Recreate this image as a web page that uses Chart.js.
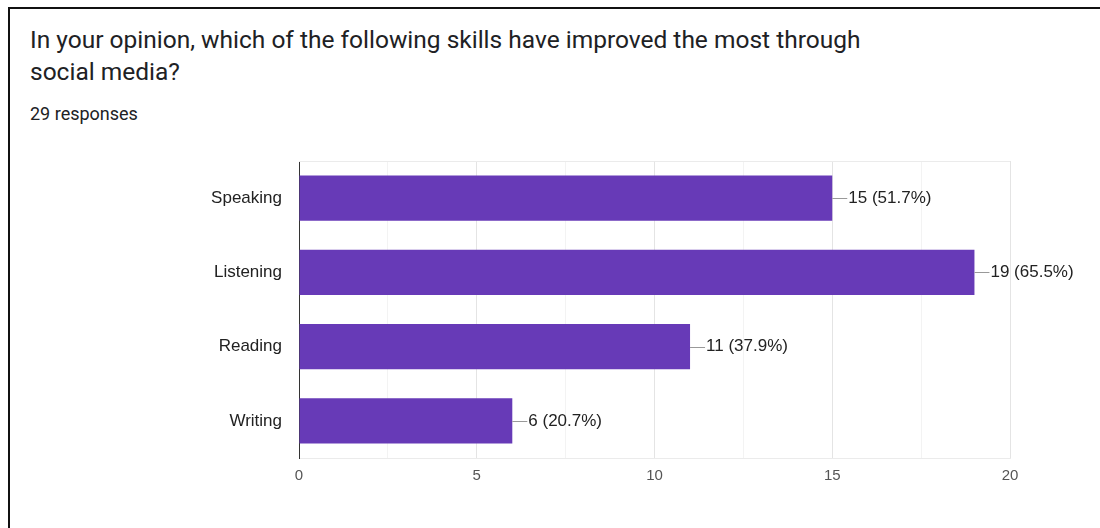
<!DOCTYPE html>
<html>
<head>
<meta charset="utf-8">
<script src="https://cdn.jsdelivr.net/npm/chart.js@4/dist/chart.umd.min.js"></script>
<style>
  html, body { margin: 0; padding: 0; background: #fff; }
  body { width: 1100px; height: 528px; position: relative; overflow: hidden; }
  .card {
    position: absolute; left: 8px; top: 7px; width: 1100px; height: 540px;
    border-left: 2px solid #111; border-top: 2px solid #111;
  }
  .title {
    position: absolute; left: 30px; top: 24px; width: 850px;
    font-family: Roboto, Arial, sans-serif; font-size: 24.5px; line-height: 32px; color: #202124;
  }
  .count {
    position: absolute; left: 30px; top: 103px;
    font-family: Roboto, Arial, sans-serif; font-size: 18px; line-height: 22px; color: #202124;
  }
  #bar-chart { position: absolute; left: 0; top: 0; }
</style>
</head>
<body>
<div class="card"></div>
<div class="title">In your opinion, which of the following skills have improved the most through social media?</div>
<div class="count">29 responses</div>
<canvas id="bar-chart" width="1100" height="528"></canvas>
<script>
var skills = ["Speaking", "Listening", "Reading", "Writing"];
var counts = [15, 19, 11, 6];
var totalResponses = 29;
var xTicks = [0, 5, 10, 15, 20];

var labelFont = "'Liberation Sans', Arial, sans-serif";

// leader line + "n (p%)" label at the end of each bar
var valueLabels = {
    id: "valueLabels",
    afterDatasetsDraw: function (chart) {
        var ctx = chart.ctx;
        var meta = chart.getDatasetMeta(0);
        ctx.save();
        ctx.font = "17px " + labelFont;
        ctx.textBaseline = "middle";
        ctx.textAlign = "left";
        meta.data.forEach(function (bar, i) {
            var pct = (counts[i] / totalResponses * 100).toFixed(1);
            ctx.strokeStyle = "#999";
            ctx.lineWidth = 1;
            ctx.beginPath();
            ctx.moveTo(bar.x, Math.round(bar.y) + 0.5);
            ctx.lineTo(bar.x + 15, Math.round(bar.y) + 0.5);
            ctx.stroke();
            ctx.fillStyle = "#222";
            ctx.fillText(counts[i] + " (" + pct + "%)", bar.x + 16, bar.y);
        });
        // faint frame line along the top of the plot
        var a = chart.chartArea;
        ctx.strokeStyle = "#ebebeb";
        ctx.beginPath();
        ctx.moveTo(a.left, a.top + 0.5);
        ctx.lineTo(a.right, a.top + 0.5);
        ctx.stroke();
        ctx.restore();
    },
};

var ctx = document.getElementById("bar-chart").getContext("2d");

var config = {
    type: "bar",
    data: {
        labels: skills,
        datasets: [
            {
                data: counts,
                backgroundColor: "#673ab7",
                borderWidth: 0,
                barPercentage: 0.61,
                categoryPercentage: 1,
            },
        ],
    },
    options: {
        indexAxis: "y",
        responsive: false,
        animation: false,
        layout: {
            padding: { top: 161, right: 90, left: 0, bottom: 0 },
        },
        plugins: {
            legend: { display: false },
            tooltip: { enabled: false },
        },
        scales: {
            x: {
                min: 0,
                max: 20,
                afterBuildTicks: function (axis) {
                    var t = [];
                    for (var v = 0; v <= 20; v += 2.5) t.push({ value: v });
                    axis.ticks = t;
                },
                afterFit: function (axis) {
                    axis.height = 70;
                },
                border: { display: true, color: "#ebebeb" },
                grid: {
                    drawTicks: false,
                    color: function (c) {
                        if (c.tick && c.tick.value === 0) return "rgba(0,0,0,0)";
                        return c.tick && xTicks.indexOf(c.tick.value) >= 0 ? "#e4e4e4" : "#f3f3f3";
                    },
                },
                ticks: {
                    padding: 9,
                    color: "#555",
                    font: { family: labelFont, size: 15 },
                    callback: function (v) {
                        return xTicks.indexOf(v) >= 0 ? v : "";
                    },
                },
            },
            y: {
                afterFit: function (axis) {
                    axis.width = 299;
                },
                border: { display: true, color: "#333", width: 1 },
                grid: { display: false, drawTicks: false },
                ticks: {
                    padding: 17,
                    color: "#222",
                    font: { family: labelFont, size: 17 },
                },
            },
        },
    },
    plugins: [valueLabels],
};

var skillsChart = new Chart(ctx, config);
</script>
</body>
</html>
